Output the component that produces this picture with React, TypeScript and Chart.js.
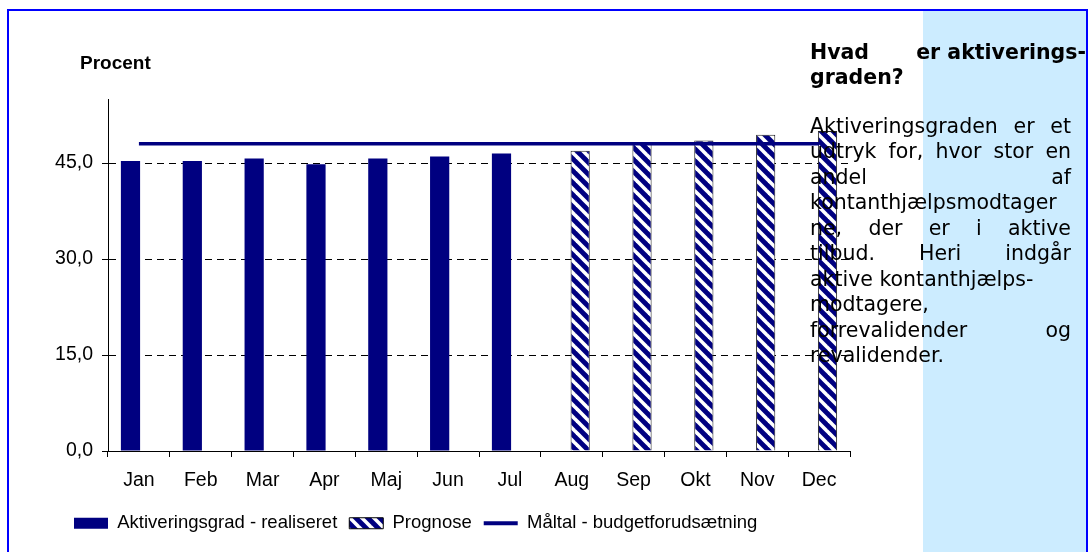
import React, { useEffect, useRef } from 'react';
import { Chart, registerables } from 'chart.js';

Chart.register(...registerables);

const months = ['Jan', 'Feb', 'Mar', 'Apr', 'Maj', 'Jun', 'Jul', 'Aug', 'Sep', 'Okt', 'Nov', 'Dec'];
const realiseret = [45.3, 45.3, 45.7, 44.8, 45.7, 46.0, 46.5, null, null, null, null, null];
const prognose = [null, null, null, null, null, null, null, 46.9, 48.0, 48.5, 49.4, 50.0];
const maaltal = [48, 48, 48, 48, 48, 48, 48, 48, 48, 48, 48, 48];
const yTicks = [0, 15, 30, 45];
const seriesNames = ['Aktiveringsgrad - realiseret', 'Prognose', 'Måltal - budgetforudsætning'];
const axisTitle = 'Procent';

const titleLine1 = ['Hvad', 'er aktiverings-'];
const titleLine2 = 'graden?';
const bodyLines: [string, boolean][] = [
  ['Aktiveringsgraden er et', true],
  ['udtryk for, hvor stor en', true],
  ['andel af', true],
  ['kontanthjælpsmodtager', false],
  ['ne, der er i aktive', true],
  ['tilbud. Heri indgår', true],
  ['aktive kontanthjælps-', false],
  ['modtagere,', false],
  ['forrevalidender og', true],
  ['revalidender.', false],
];

const NAVY = '#000080';

function makePattern(): CanvasPattern | string {
  const w = 12;
  const h = 12;
  const c = document.createElement('canvas');
  c.width = w;
  c.height = h;
  const g = c.getContext('2d');
  if (!g) return NAVY;
  g.fillStyle = NAVY;
  g.fillRect(0, 0, w, h);
  g.strokeStyle = '#ffffff';
  g.lineWidth = 3.6;
  for (const dx of [-w, 0, w]) {
    g.beginPath();
    g.moveTo(dx - w, -h);
    g.lineTo(dx + 2 * w, 2 * h);
    g.stroke();
  }
  const p = g.createPattern(c, 'repeat');
  return p || NAVY;
}

const legendShift = {
  id: 'legendShift',
  afterLayout(chart: any) {
    if (chart.legend) {
      chart.legend.left = 62;
    }
  },
};

export default function App() {
  const ref = useRef<HTMLCanvasElement | null>(null);

  useEffect(() => {
    if (!ref.current) return;
    Chart.defaults.font.family = 'Arial, "Liberation Sans", sans-serif';
    const pattern = makePattern();
    const chart = new Chart(ref.current, {
      type: 'bar',
      plugins: [legendShift],
      data: {
        labels: months,
        datasets: [
          {
            type: 'bar',
            label: seriesNames[0],
            data: realiseret,
            backgroundColor: NAVY,
            borderWidth: 0,
            categoryPercentage: 0.545,
            barPercentage: 1.14,
            order: 1,
          },
          {
            type: 'bar',
            label: seriesNames[1],
            data: prognose,
            backgroundColor: pattern as any,
            borderColor: '#222222',
            borderWidth: 1,
            categoryPercentage: 0.545,
            barPercentage: 1.14,
            order: 1,
          },
          {
            type: 'line',
            label: seriesNames[2],
            data: maaltal,
            borderColor: NAVY,
            borderWidth: 3.5,
            pointRadius: 0,
            fill: false,
            order: 0,
          } as any,
        ],
      },
      options: {
        animation: false,
        responsive: false,
        devicePixelRatio: 1,
        layout: { padding: { left: 40, right: 238, top: 99, bottom: 9.5 } },
        plugins: {
          title: { display: false },
          tooltip: { enabled: false },
          legend: {
            display: true,
            position: 'bottom',
            align: 'start',
            labels: {
              usePointStyle: true,
              pointStyleWidth: 34,
              boxWidth: 34,
              boxHeight: 11,
              padding: 12,
              color: '#000',
              font: { size: 18.5 },
              generateLabels: () => [
                {
                  text: seriesNames[0],
                  fillStyle: NAVY,
                  strokeStyle: NAVY,
                  lineWidth: 0,
                  pointStyle: 'rect',
                  hidden: false,
                  datasetIndex: 0,
                },
                {
                  text: seriesNames[1],
                  fillStyle: pattern as any,
                  strokeStyle: '#000',
                  lineWidth: 1,
                  pointStyle: 'rect',
                  hidden: false,
                  datasetIndex: 1,
                },
                {
                  text: seriesNames[2],
                  fillStyle: NAVY,
                  strokeStyle: NAVY,
                  lineWidth: 4,
                  pointStyle: 'line',
                  hidden: false,
                  datasetIndex: 2,
                },
              ],
            },
          },
        },
        scales: {
          x: {
            type: 'category',
            offset: true,
            grid: {
              display: true,
              drawOnChartArea: false,
              drawTicks: true,
              tickLength: 6,
              tickColor: '#000',
              color: '#000',
              offset: true,
            },
            border: { display: true, color: '#000', width: 1 },
            ticks: {
              color: '#000',
              font: { size: 19.5 },
              padding: 11.5,
              maxRotation: 0,
              autoSkip: false,
            },
            afterFit: (s: any) => {
              s.height = 51;
            },
          },
          y: {
            type: 'linear',
            min: 0,
            max: 55,
            grid: {
              color: '#000',
              lineWidth: 1,
              tickLength: 6,
              tickColor: '#000',
            },
            border: { display: true, color: '#000', width: 1, dash: [7, 5] },
            ticks: {
              color: '#000',
              font: { size: 19.5 },
              padding: 9,
              callback: (v: any) => Number(v).toFixed(1).replace('.', ','),
            },
            afterBuildTicks: (s: any) => {
              s.ticks = yTicks.map((v) => ({ value: v }));
            },
            afterFit: (s: any) => {
              s.width = 68;
            },
          },
        },
      } as any,
    });
    return () => chart.destroy();
  }, []);

  const bodyFont = '20.5px "DejaVu Sans", Verdana, sans-serif';
  const boldFont = 'bold 20.5px "DejaVu Sans", Verdana, sans-serif';

  return (
    <div
      style={{
        position: 'absolute',
        left: 0,
        top: 0,
        width: 1088,
        height: 552,
        overflow: 'hidden',
        background: '#fff',
      }}
    >
      <canvas ref={ref} width={1088} height={552} style={{ position: 'absolute', left: 0, top: 0, display: 'block' }} />
      <div
        style={{
          position: 'absolute',
          left: 923,
          top: 11,
          width: 163,
          height: 541,
          background: '#CCECFF',
        }}
      />
      <div
        style={{
          position: 'absolute',
          left: 7,
          top: 9,
          width: 1081,
          height: 543,
          boxSizing: 'border-box',
          border: '2px solid #0000FF',
          borderBottom: 'none',
        }}
      />
      <div
        style={{
          position: 'absolute',
          left: 80,
          top: 53,
          font: 'bold 19px Arial, "Liberation Sans", sans-serif',
          lineHeight: '19px',
          color: '#000',
          whiteSpace: 'nowrap',
        }}
      >
        {axisTitle}
      </div>
      <div
        style={{
          position: 'absolute',
          left: 810,
          top: 39.5,
          width: 276,
          font: boldFont,
          lineHeight: '25.5px',
          color: '#000',
          whiteSpace: 'nowrap',
        }}
      >
        <div style={{ display: 'flex', justifyContent: 'space-between' }}>
          {titleLine1.map((w, i) => (
            <span key={i}>{w}</span>
          ))}
        </div>
        <div>{titleLine2}</div>
      </div>
      <div
        style={{
          position: 'absolute',
          left: 810,
          top: 113.5,
          width: 261,
          font: bodyFont,
          lineHeight: '25.5px',
          color: '#000',
          whiteSpace: 'nowrap',
        }}
      >
        {bodyLines.map(([line, justify], i) =>
          justify ? (
            <div key={i} style={{ display: 'flex', justifyContent: 'space-between' }}>
              {line.split(' ').map((w, j) => (
                <span key={j}>{w}</span>
              ))}
            </div>
          ) : (
            <div key={i}>{line}</div>
          )
        )}
      </div>
    </div>
  );
}
